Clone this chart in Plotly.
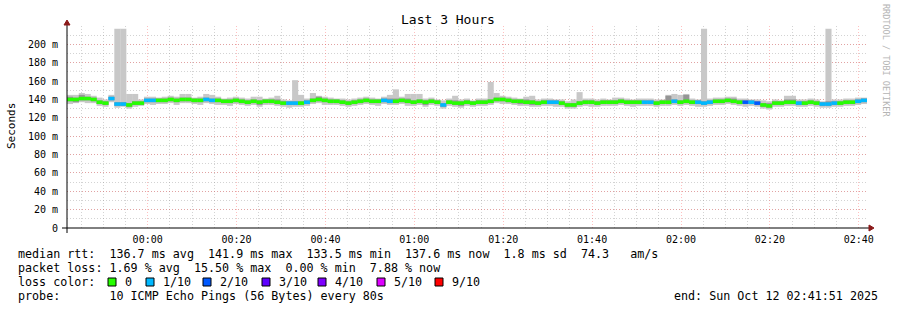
import plotly.graph_objects as go
import pandas as pd

# ---------------- data ----------------
START = "2025-10-11 23:41:51"
END = "2025-10-12 02:41:51"
STEP_S = 80  # seconds per sample

median_ms = [
    140, 140, 141, 141, 140, 137, 136, 141, 135, 135,
    134, 136, 136, 139, 139, 139, 139, 140, 139, 140,
    140, 139, 139, 140, 139, 139, 138, 138, 139, 138,
    137, 138, 137, 138, 138, 137, 136, 136, 136, 136,
    137, 139, 140, 139, 138, 138, 137, 136, 137, 138,
    139, 138, 138, 139, 138, 138, 139, 138, 137, 138,
    137, 138, 137, 134, 137, 136, 136, 137, 136, 137,
    137, 138, 140, 140, 139, 138, 138, 137, 137, 136,
    137, 137, 137, 136, 134, 134, 136, 137, 137, 136,
    137, 137, 137, 138, 137, 137, 137, 137, 137, 136,
    137, 137, 138, 137, 138, 137, 137, 136, 137, 138,
    138, 139, 138, 137, 137, 137, 136, 134, 133, 136,
    136, 137, 137, 136, 136, 137, 136, 135, 135, 136,
    136, 137, 137, 138, 139,
]

loss_tenths = [
    0, 0, 0, 0, 0, 0, 0, 1, 1, 1,
    0, 0, 0, 1, 1, 0, 0, 0, 0, 0,
    0, 0, 0, 1, 1, 0, 0, 0, 0, 0,
    0, 0, 0, 0, 0, 0, 0, 1, 1, 0,
    1, 0, 0, 0, 0, 0, 0, 0, 0, 0,
    0, 0, 0, 1, 1, 0, 0, 0, 0, 0,
    0, 0, 0, 1, 0, 0, 0, 0, 0, 0,
    0, 0, 0, 0, 0, 0, 0, 0, 0, 0,
    0, 1, 1, 0, 0, 0, 0, 0, 0, 0,
    0, 0, 0, 0, 0, 0, 0, 1, 1, 0,
    0, 0, 1, 0, 0, 0, 1, 1, 1, 0,
    0, 0, 0, 0, 2, 1, 2, 0, 0, 0,
    0, 0, 0, 1, 0, 0, 0, 1, 1, 1,
    0, 0, 0, 1, 1,
]

smoke_max_ms = [
    145, 145, 147, 146, 144, 142, 140, 145, 217, 217,
    146, 146, 140, 143, 143, 142, 143, 144, 143, 146,
    146, 142, 143, 146, 145, 143, 141, 142, 143, 142,
    141, 143, 143, 141, 142, 144, 140, 139, 161, 145,
    141, 147, 144, 143, 142, 141, 141, 140, 141, 142,
    143, 142, 141, 143, 145, 151, 143, 146, 146, 146,
    141, 142, 140, 139, 141, 144, 140, 141, 139, 141,
    141, 159, 147, 144, 143, 142, 141, 143, 144, 140,
    141, 141, 140, 140, 138, 140, 148, 141, 141, 140,
    141, 140, 142, 142, 141, 140, 141, 141, 141, 140,
    140, 145, 146, 145, 146, 141, 140, 217, 141, 142,
    142, 143, 143, 141, 141, 140, 140, 139, 138, 140,
    139, 144, 144, 140, 140, 141, 140, 138, 217, 140,
    140, 141, 141, 142, 142,
]

smoke_min_ms = [
    135, 136, 137, 136, 136, 133, 132, 137, 131, 132,
    130, 132, 133, 135, 134, 135, 135, 136, 134, 136,
    136, 135, 134, 136, 135, 134, 134, 133, 135, 134,
    133, 134, 132, 134, 134, 133, 132, 131, 132, 132,
    133, 135, 136, 134, 134, 134, 133, 132, 133, 134,
    135, 134, 133, 135, 134, 134, 135, 133, 133, 134,
    132, 134, 133, 130, 133, 132, 131, 133, 132, 133,
    133, 134, 136, 135, 135, 134, 133, 133, 132, 132,
    133, 133, 132, 132, 130, 130, 132, 133, 132, 132,
    133, 133, 133, 134, 133, 132, 133, 133, 133, 132,
    133, 133, 134, 133, 134, 133, 132, 132, 133, 134,
    134, 135, 134, 133, 132, 133, 132, 130, 129, 132,
    132, 133, 133, 132, 132, 133, 132, 131, 131, 132,
    132, 133, 133, 134, 135,
]

inner_hi_ms = [
    143, 142, 145, 143, 142, 139, 138, 143, 137, 137,
    136, 138, 138, 141, 141, 141, 141, 142, 141, 142,
    142, 141, 141, 142, 141, 141, 140, 140, 141, 140,
    139, 140, 139, 140, 140, 140, 138, 138, 138, 138,
    139, 141, 143, 141, 140, 140, 139, 138, 139, 140,
    141, 140, 140, 141, 141, 141, 141, 141, 139, 140,
    139, 140, 139, 136, 139, 139, 138, 139, 138, 139,
    139, 140, 142, 142, 141, 140, 140, 140, 139, 138,
    139, 139, 139, 138, 136, 136, 138, 139, 139, 138,
    139, 139, 139, 140, 139, 139, 139, 139, 139, 138,
    139, 144, 140, 139, 145, 139, 139, 138, 139, 140,
    140, 141, 141, 139, 139, 139, 138, 136, 136, 138,
    138, 140, 140, 138, 138, 139, 138, 137, 138, 138,
    138, 139, 139, 140, 141,
]

inner_lo_ms = [
    138, 137, 139, 139, 138, 135, 134, 139, 133, 133,
    132, 134, 134, 137, 137, 137, 137, 138, 137, 138,
    138, 137, 137, 138, 137, 137, 136, 136, 137, 136,
    135, 136, 134, 136, 136, 135, 134, 134, 134, 134,
    135, 137, 138, 137, 136, 136, 135, 134, 135, 136,
    137, 136, 136, 137, 136, 136, 137, 136, 135, 136,
    134, 136, 135, 132, 135, 134, 133, 135, 134, 135,
    135, 136, 138, 138, 137, 136, 135, 135, 134, 134,
    135, 135, 135, 134, 132, 132, 134, 135, 135, 134,
    135, 135, 135, 136, 135, 135, 135, 135, 135, 134,
    135, 135, 136, 135, 136, 135, 135, 134, 135, 136,
    136, 137, 136, 135, 135, 135, 134, 132, 131, 134,
    134, 135, 135, 134, 134, 135, 134, 133, 133, 134,
    134, 135, 135, 136, 137,
]

y_tick_vals = [0, 0.02, 0.04, 0.06, 0.08, 0.10, 0.12, 0.14, 0.16, 0.18, 0.20]
y_tick_text = ["0", "20 m", "40 m", "60 m", "80 m", "100 m", "120 m",
               "140 m", "160 m", "180 m", "200 m"]
Y_MAX = 0.22

loss_labels = ["0", "1/10", "2/10", "3/10", "4/10", "5/10", "9/10"]
loss_colors = ["#26ff00", "#00b8ff", "#0059ff", "#5e00ff", "#7e00ff", "#dd00ff", "#ff0000"]
loss_color_by_tenths = {0: "#26ff00", 1: "#00b8ff", 2: "#0059ff", 3: "#5e00ff",
                        4: "#7e00ff", 5: "#dd00ff", 9: "#ff0000"}

line_median = "median rtt:  136.7 ms avg  141.9 ms max  133.5 ms min  137.6 ms now  1.8 ms sd  74.3   am/s"
line_loss = "packet loss: 1.69 % avg  15.50 % max  0.00 % min  7.88 % now"
line_probe = "probe:       10 ICMP Echo Pings (56 Bytes) every 80s"
line_end = "end: Sun Oct 12 02:41:51 2025"
title_text = "Last 3 Hours"
watermark = "RRDTOOL / TOBI OETIKER"

# ---------------- layout geometry (pixels) ----------------
W, H = 897, 310
L, R, T, B = 67, 30, 26, 82
PW, PH = W - L - R, H - T - B
MONO = "DejaVu Sans Mono"
BAR_W = STEP_S * 1000 * 1.03   # tiny overlap so adjacent steps join


def px(x):
    return (x - L) / PW


def py(y):
    return (H - B - y) / PH


def nb(s):
    return s.replace(" ", "\u00a0")


start = pd.Timestamp(START)
times = [start + pd.Timedelta(seconds=STEP_S * (i + 0.5)) for i in range(len(median_ms))]
ms = 1000.0

fig = go.Figure()

# outer smoke
fig.add_bar(x=times, base=[v / ms for v in smoke_min_ms],
            y=[(h - l) / ms for h, l in zip(smoke_max_ms, smoke_min_ms)],
            width=BAR_W, marker_color="#c8c8c8", marker_line_width=0,
            hoverinfo="skip")
# inner smoke
fig.add_bar(x=times, base=[v / ms for v in inner_lo_ms],
            y=[(h - l) / ms for h, l in zip(inner_hi_ms, inner_lo_ms)],
            width=BAR_W, marker_color="#959595", marker_line_width=0,
            hoverinfo="skip")
# median, coloured by loss
MED_PX = 3.5
med_h = MED_PX * Y_MAX / PH
fig.add_bar(x=times, base=[v / ms - med_h / 2 for v in median_ms],
            y=[med_h] * len(median_ms), width=BAR_W,
            marker_color=[loss_color_by_tenths[k] for k in loss_tenths],
            marker_line_width=0, hoverinfo="skip")

GRID_MAJ = "rgba(255,60,60,0.32)"
GRID_MIN = "rgba(140,140,140,0.38)"

fig.update_layout(
    width=W, height=H, margin=dict(l=L, r=R, t=T, b=B, pad=0),
    paper_bgcolor="white", plot_bgcolor="white",
    barmode="overlay", showlegend=False,
    font=dict(family=MONO, size=10, color="black"),
    xaxis=dict(type="date", range=[START, END], tickformat="%H:%M",
               tick0="2025-10-12 00:00:00", dtick=20 * 60 * 1000,
               showgrid=True, gridcolor=GRID_MAJ, griddash="1px,2px",
               gridwidth=1, zeroline=False, showline=False, ticks="outside",
               ticklen=2, tickcolor="rgba(0,0,0,0)",
               tickfont=dict(family=MONO, size=10, color="black"),
               minor=dict(tick0="2025-10-12 00:00:00", dtick=5 * 60 * 1000,
                          showgrid=True, gridcolor=GRID_MIN,
                          griddash="1px,2px", gridwidth=1)),
    yaxis=dict(range=[0, Y_MAX], tickmode="array", tickvals=y_tick_vals,
               ticktext=y_tick_text, showgrid=True,
               gridcolor=GRID_MAJ, griddash="1px,2px", gridwidth=1,
               zeroline=False, showline=False, ticks="outside", ticklen=6,
               tickcolor="rgba(0,0,0,0)",
               tickfont=dict(family=MONO, size=10, color="black"),
               minor=dict(tickmode="linear", tick0=0, dtick=0.01, showgrid=True,
                          gridcolor=GRID_MIN, griddash="1px,2px",
                          gridwidth=1)),
)

shapes = []
# axis lines
shapes.append(dict(type="line", xref="paper", yref="paper", x0=px(62), x1=px(869),
                   y0=py(228), y1=py(228), line=dict(color="black", width=1)))
shapes.append(dict(type="line", xref="paper", yref="paper", x0=px(67), x1=px(67),
                   y0=py(233), y1=py(24), line=dict(color="black", width=1)))
# arrow heads
shapes.append(dict(type="path", xref="paper", yref="paper",
                   path=f"M {px(869)} {py(225)} L {px(874)} {py(228)} L {px(869)} {py(231)} Z",
                   fillcolor="#8b1a1a", line=dict(color="#8b1a1a", width=1)))
shapes.append(dict(type="path", xref="paper", yref="paper",
                   path=f"M {px(64)} {py(25)} L {px(67)} {py(20)} L {px(70)} {py(25)} Z",
                   fillcolor="#8b1a1a", line=dict(color="#8b1a1a", width=1)))

annotations = []


def text_at(x, y, s, size=11.7, anchor="left", color="black", angle=0):
    annotations.append(dict(xref="paper", yref="paper", x=px(x), y=py(y), text=nb(s),
                            showarrow=False, xanchor=anchor, yanchor="middle",
                            textangle=angle,
                            font=dict(family=MONO, size=size, color=color)))


text_at(448, 20, title_text, size=13, anchor="center")
text_at(11, 126, "Seconds", size=11, anchor="center", angle=-90)
text_at(886, 60, watermark, size=8.5, anchor="center", color="#b4b4b4", angle=90)

text_at(16, 254, line_median)
text_at(16, 268, line_loss)
text_at(16, 282, "loss color:")
sq_x = [108, 146, 203, 262, 318, 377, 435]
for x0, col, lab in zip(sq_x, loss_colors, loss_labels):
    shapes.append(dict(type="rect", xref="paper", yref="paper",
                       x0=px(x0), x1=px(x0 + 8), y0=py(286), y1=py(278),
                       fillcolor=col, line=dict(color="black", width=1)))
    text_at(x0 + 15, 282, lab)
text_at(16, 296, line_probe)
text_at(880, 296, line_end, anchor="right")

fig.update_layout(shapes=shapes, annotations=annotations)

fig.write_html("out.html")
